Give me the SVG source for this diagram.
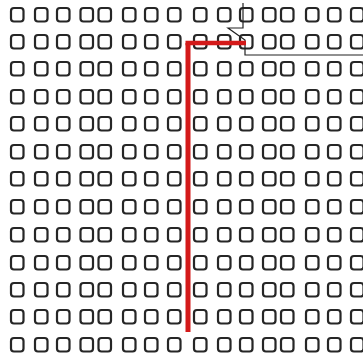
<svg xmlns="http://www.w3.org/2000/svg" xmlns:xlink="http://www.w3.org/1999/xlink" width="363" height="356" viewBox="0 0 363 356">
<style>
.sq{fill:none;stroke:#262626;stroke-width:2.2;}
.red{fill:none;stroke:#d41a1a;stroke-linejoin:miter;}
.wire{fill:none;stroke:#222;stroke-width:1.2;}
</style>
<defs>
<rect id="s" class="sq" x="0" y="0" width="12.5" height="13.5" rx="3"/>
<g id="row">
<use xlink:href="#s" x="11"/><use xlink:href="#s" x="35"/><use xlink:href="#s" x="57"/><use xlink:href="#s" x="80.5"/>
<use xlink:href="#s" x="98.5"/><use xlink:href="#s" x="123"/><use xlink:href="#s" x="145"/><use xlink:href="#s" x="168"/>
<use xlink:href="#s" x="194"/><use xlink:href="#s" x="218"/><use xlink:href="#s" x="240"/><use xlink:href="#s" x="263"/>
<use xlink:href="#s" x="281"/><use xlink:href="#s" x="306"/><use xlink:href="#s" x="328"/><use xlink:href="#s" x="351"/>
</g>
</defs>
<rect width="363" height="356" fill="#fff"/>
<g id="grid">
<use xlink:href="#row" y="8"/>
<use xlink:href="#row" y="35"/>
<use xlink:href="#row" y="62"/>
<use xlink:href="#row" y="90"/>
<use xlink:href="#row" y="117"/>
<use xlink:href="#row" y="145"/>
<use xlink:href="#row" y="172"/>
<use xlink:href="#row" y="200"/>
<use xlink:href="#row" y="228"/>
<use xlink:href="#row" y="256"/>
<use xlink:href="#row" y="283"/>
<use xlink:href="#row" y="310"/>
<use xlink:href="#row" y="338"/>
</g>
<g id="connectors">
<path class="wire" d="M243,3 V28 H228 L245,40 V55 H363"/>
<path class="red" stroke-width="5" d="M188,332 V43"/>
<path class="red" stroke-width="4.5" d="M185.5,43 H246"/>
</g>
</svg>
